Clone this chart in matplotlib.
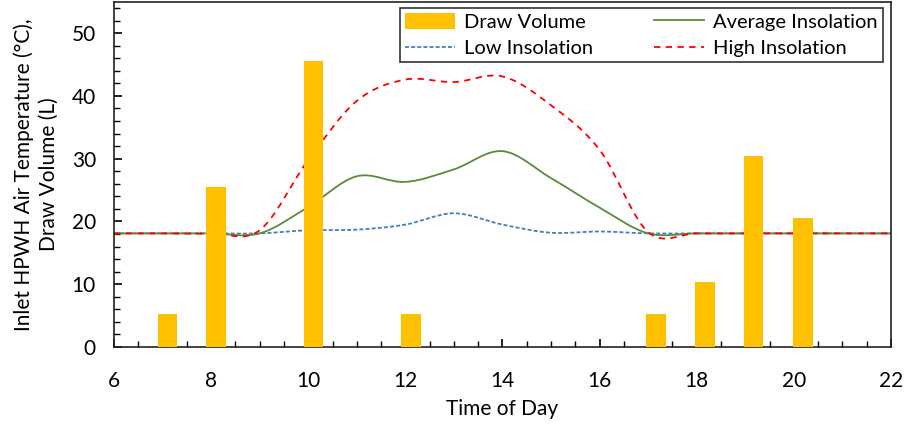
import numpy as np
import matplotlib
matplotlib.use("Agg")
import matplotlib.pyplot as plt
from matplotlib.path import Path
from matplotlib.patches import PathPatch, Patch
from matplotlib.lines import Line2D
from matplotlib.ticker import MultipleLocator

# hourly values
hours = [6, 7, 8, 9, 10, 11, 12, 13, 14, 15, 16, 17, 18, 19, 20, 21, 22]
avg_ins = [18.1, 18.1, 18.1, 18.1, 22.3, 27.2, 26.3, 28.3, 31.2, 26.9, 22.2, 18.1, 18.1, 18.1, 18.1, 18.1, 18.1]
low_ins = [18.1, 18.1, 18.1, 18.1, 18.6, 18.7, 19.5, 21.3, 19.5, 18.2, 18.4, 18.1, 18.1, 18.1, 18.1, 18.1, 18.1]
high_ins = [18.1, 18.1, 18.1, 18.6, 29.8, 39.2, 42.6, 42.2, 43.1, 38.5, 31.4, 18.3, 18.1, 18.1, 18.1, 18.1, 18.1]

# draw events (bar centres as placed in the original)
draw_x = [7.1, 8.1, 10.11, 12.12, 17.16, 18.17, 19.17, 20.19]
draw_vol = [5.2, 25.5, 45.6, 5.2, 5.2, 10.3, 30.5, 20.5]

plt.rcParams['font.family'] = ['Lato', 'DejaVu Sans']


def smooth_path(x, y):
    # excel-style smoothed line (catmull-rom as bezier segments)
    pts = np.column_stack([x, y]).astype(float)
    n = len(pts)
    verts = [pts[0]]
    codes = [Path.MOVETO]
    for i in range(n - 1):
        p0 = pts[i - 1] if i > 0 else pts[i]
        p1 = pts[i]
        p2 = pts[i + 1]
        p3 = pts[i + 2] if i + 2 < n else pts[i + 1]
        verts += [p1 + (p2 - p0) / 6, p2 - (p3 - p1) / 6, p2]
        codes += [Path.CURVE4] * 3
    return Path(verts, codes)


fig = plt.figure(figsize=(9.09, 4.29), dpi=100)
ax = fig.add_axes([0.1254, 0.1911, 0.8548, 0.8049])

green = '#5B8A3C'
blue = '#3F7FC4'
red = '#FF0000'
gold = '#FFC000'

ax.add_patch(PathPatch(smooth_path(hours, low_ins), fill=False, edgecolor=blue,
                       lw=1.3, linestyle=(0, (2.2, 1.2)), zorder=2))
ax.add_patch(PathPatch(smooth_path(hours, avg_ins), fill=False, edgecolor=green,
                       lw=1.3, zorder=2))
ax.add_patch(PathPatch(smooth_path(hours, high_ins), fill=False, edgecolor=red,
                       lw=1.3, linestyle=(0, (3.5, 3)), zorder=2))

ax.bar(draw_x, draw_vol, width=0.4, color=gold, zorder=3)

ax.set_xlim(6, 22)
ax.set_ylim(0, 55)
ax.xaxis.set_major_locator(MultipleLocator(2))
ax.xaxis.set_minor_locator(MultipleLocator(0.5))
ax.yaxis.set_major_locator(MultipleLocator(10))
ax.yaxis.set_minor_locator(MultipleLocator(2))
ax.tick_params(which='both', direction='in', top=False, right=False, colors='black', labelsize=15)
ax.tick_params(which='major', length=6, width=1.2)
ax.tick_params(which='minor', length=4, width=1)
ax.tick_params(axis='x', which='major', pad=17)
ax.tick_params(axis='y', which='major', pad=13)
ax.set_yticks([0, 10, 20, 30, 40, 50])
for s in ax.spines.values():
    s.set_linewidth(1.2)
    s.set_color('#222222')

ax.set_xlabel('Time of Day', fontsize=15, labelpad=6)
ax.set_ylabel('Inlet HPWH Air Temperature (°C),\nDraw Volume (L)', fontsize=15, labelpad=9,
              multialignment='center', linespacing=1.35)

handles = [Patch(facecolor=gold, edgecolor='none'),
           Line2D([], [], color=blue, lw=1.3, linestyle=(0, (2.2, 1.2))),
           Line2D([], [], color=green, lw=1.3),
           Line2D([], [], color=red, lw=1.3, linestyle=(0, (3.5, 3)))]
labels = ['Draw Volume', 'Low Insolation', 'Average Insolation', 'High Insolation']
leg = ax.legend(handles, labels, ncols=2, loc='upper right', bbox_to_anchor=(0.9897, 0.9826),
                fontsize=14.5, frameon=True, fancybox=False, handlelength=2.5, handleheight=0.9,
                columnspacing=3.0, labelspacing=0.4, borderpad=0.25, handletextpad=0.45,
                borderaxespad=0)
leg.get_frame().set_edgecolor('black')
leg.get_frame().set_linewidth(1.2)

fig.savefig('out.png', dpi=100)
